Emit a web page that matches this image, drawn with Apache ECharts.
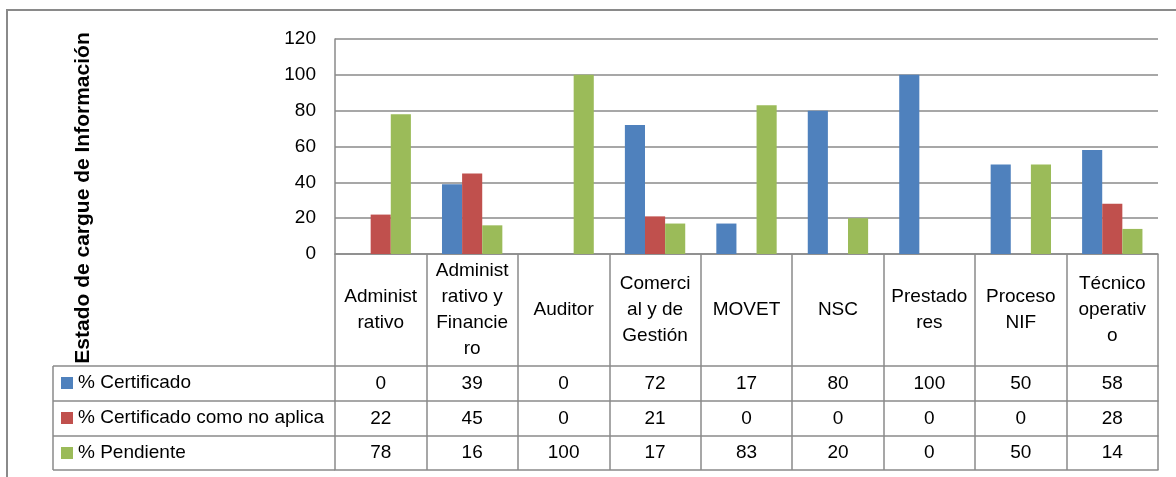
<!DOCTYPE html>
<html>
<head>
<meta charset="utf-8">
<script src="https://cdn.jsdelivr.net/npm/echarts@6/dist/echarts.min.js"></script>
<style>
html,body{margin:0;padding:0;background:#fff;}
#chart{width:1176px;height:477px;}
</style>
</head>
<body>
<div id="chart"></div>
<script>
// ---- data ----
const categories = ['Administrativo','Administrativo y Financiero','Auditor','Comercial y de Gestión','MOVET','NSC','Prestadores','Proceso NIF','Técnico operativo'];
const categoryLabels = ['Administ\nrativo','Administ\nrativo y\nFinancie\nro','Auditor','Comerci\nal y de\nGestión','MOVET','NSC','Prestado\nres','Proceso\nNIF','Técnico\noperativ\no'];
const seriesNames = ['% Certificado','% Certificado como no aplica','% Pendiente'];
const certificado = [0,39,0,72,17,80,100,50,58];
const noAplica = [22,45,0,21,0,0,0,0,28];
const pendiente = [78,16,100,17,83,20,0,50,14];
const yTicks = [0,20,40,60,80,100,120];
const axisTitle = 'Estado de cargue de Información';

// ---- layout / style ----
const FONT = 'Liberation Sans';
const FS = 19;
const colors = ['#4F81BD','#C0504D','#9BBB59'];
const lineColor = '#8a8a8a';
const gridL = 335, gridR = 1158, gridT = 39, gridB = 254;
const rowTop = [366, 401, 436, 470];
const tableLeft = 53;

const chart = echarts.init(document.getElementById('chart'), null, {renderer:'canvas'});

const valueRows = [certificado, noAplica, pendiente];
const xAxes = [{
  type:'category', data:categories, gridIndex:0, position:'bottom',
  axisLine:{show:true, lineStyle:{color:lineColor, width:1.5}},
  axisTick:{show:true, length:rowTop[3]-gridB, lineStyle:{color:lineColor, width:1.5}},
  axisLabel:{interval:0, formatter:(v,i)=>categoryLabels[i], margin:(rowTop[0]-gridB)/2,
    verticalAlign:'middle', lineHeight:26, fontSize:FS, fontFamily:FONT, color:'#000', align:'center'},
  splitLine:{show:false}
}];
valueRows.forEach((vals, r) => {
  xAxes.push({
    type:'category', data:categories, gridIndex:0, position:'bottom', offset:rowTop[r]-gridB,
    axisLine:{show:true, lineStyle:{color:lineColor, width:1.5}},
    axisTick:{show:false},
    axisLabel:{interval:0, formatter:(v,i)=>String(vals[i]), margin:(rowTop[r+1]-rowTop[r])/2,
      verticalAlign:'middle', fontSize:FS, fontFamily:FONT, color:'#000'},
    splitLine:{show:false}
  });
});
xAxes.push({
  type:'category', data:categories, gridIndex:0, position:'bottom', offset:rowTop[3]-gridB,
  axisLine:{show:true, lineStyle:{color:lineColor, width:1.5}},
  axisTick:{show:false}, axisLabel:{show:false}, splitLine:{show:false}
});

const graphics = [
  {type:'rect', shape:{x:7, y:10, width:1400, height:700}, style:{fill:'none', stroke:lineColor, lineWidth:2}, silent:true},
  {type:'text', x:83, y:198, rotation:Math.PI/2,
    style:{text:axisTitle, font:'bold 21px "'+FONT+'"', fill:'#000', textAlign:'center', textVerticalAlign:'middle'}},
  {type:'line', shape:{x1:tableLeft, y1:rowTop[0], x2:tableLeft, y2:rowTop[3]}, style:{stroke:lineColor, lineWidth:1.5}}
];
rowTop.forEach(y => graphics.push({type:'line', shape:{x1:tableLeft, y1:y, x2:gridL, y2:y}, style:{stroke:lineColor, lineWidth:1.5}}));

const option = {
  animation:false,
  color:colors,
  textStyle:{fontFamily:FONT},
  grid:{left:gridL, right:1176-gridR, top:gridT, bottom:477-gridB, containLabel:false},
  legend:{
    orient:'vertical', left:61, top:372, padding:0,
    itemWidth:12, itemHeight:12, itemGap:13, icon:'rect',
    textStyle:{fontSize:FS, fontFamily:FONT, color:'#000', lineHeight:22},
    data:seriesNames, selectedMode:false
  },
  xAxis:xAxes,
  yAxis:{
    type:'value', min:yTicks[0], max:yTicks[yTicks.length-1], interval:yTicks[1]-yTicks[0],
    axisLine:{show:true, lineStyle:{color:lineColor, width:1.5}},
    axisTick:{show:false},
    axisLabel:{fontSize:FS, fontFamily:FONT, color:'#000', margin:19},
    splitLine:{show:true, lineStyle:{color:lineColor, width:1.5}}
  },
  series:[
    {name:seriesNames[0], type:'bar', data:certificado, xAxisIndex:0, barGap:'0%', barCategoryGap:'34%'},
    {name:seriesNames[1], type:'bar', data:noAplica, xAxisIndex:0, barGap:'0%', barCategoryGap:'34%'},
    {name:seriesNames[2], type:'bar', data:pendiente, xAxisIndex:0, barGap:'0%', barCategoryGap:'34%'}
  ],
  graphic:graphics
};
chart.setOption(option);
</script>
</body>
</html>
